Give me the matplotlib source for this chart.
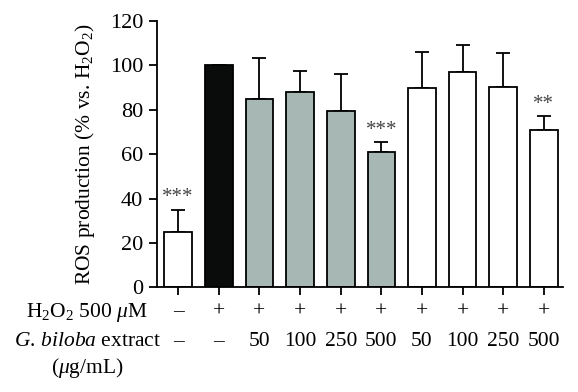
import numpy as np
import matplotlib
matplotlib.use("Agg")
import matplotlib.pyplot as plt

plt.rcParams["font.family"] = ["Liberation Serif", "DejaVu Serif"]
plt.rcParams["mathtext.fontset"] = "custom"
plt.rcParams["mathtext.rm"] = "Liberation Serif"
plt.rcParams["mathtext.it"] = "Liberation Serif:italic"

# data
values = [25, 100, 85, 88, 79.5, 61, 90, 97, 90.2, 71]
errors = [10, 0, 18.5, 9.5, 16.5, 4.3, 16.2, 12.2, 15.6, 6.2]
colors = ["white", "#0a0c0b", "#a6b7b4", "#a6b7b4", "#a6b7b4", "#a6b7b4",
          "white", "white", "white", "white"]
stars = {0: "***", 5: "***", 9: "**"}
h2o2_row = ["–", "+", "+", "+", "+", "+", "+", "+", "+", "+"]
extract_row = ["–", "–", "50", "100", "250", "500", "50", "100", "250", "500"]

fig = plt.figure(figsize=(5.78, 3.92), dpi=100)
ax = fig.add_axes([157 / 578, 1 - 287.3 / 392, 406 / 578, 266.3 / 392])

x = np.arange(len(values))
ax.bar(x, values, width=0.68, color=colors, edgecolor="black", linewidth=1.3, zorder=2)
ax.errorbar(x, values, yerr=[np.zeros(len(errors)), errors], fmt="none",
            ecolor="black", elinewidth=1.3, capsize=5, capthick=1.3, zorder=1)

for i, s in stars.items():
    ax.text(x[i], values[i] + errors[i] + 1.0, s, ha="center", va="bottom",
            fontsize=15, color="#444444")

ax.set_xlim(-0.52, 9.47)
ax.set_ylim(0, 120)
ax.set_yticks(range(0, 121, 20))
ax.set_xticks(x)
ax.set_xticklabels([])
ax.spines["top"].set_visible(False)
ax.spines["right"].set_visible(False)
for sp in ["left", "bottom"]:
    ax.spines[sp].set_linewidth(1.3)
ax.tick_params(axis="both", width=1.3, length=6, labelsize=16)
ax.tick_params(axis="y", pad=4)
ax.set_ylabel(r"ROS production (% vs. H$_2$O$_2$)", fontsize=15.5, labelpad=9)

trans = ax.get_xaxis_transform()
for i in x:
    ax.text(i, -0.093, h2o2_row[i], transform=trans, ha="center", va="center", fontsize=15.5)
    ax.text(i, -0.205, extract_row[i], transform=trans, ha="center", va="center", fontsize=15.5)

fig.text(148 / 578, 1 - 312 / 392, r"H$_2$O$_2$ 500 $\mu$M", ha="right", va="center", fontsize=15.5)
fig.text(161 / 578, 1 - 342 / 392, r"$\mathit{G.}\,\mathit{biloba}$ extract", ha="right", va="center", fontsize=15.5)
fig.text(87 / 578, 1 - 368 / 392, r"($\mu$g/mL)", ha="center", va="center", fontsize=15.5)

fig.savefig("out.png", dpi=100)
